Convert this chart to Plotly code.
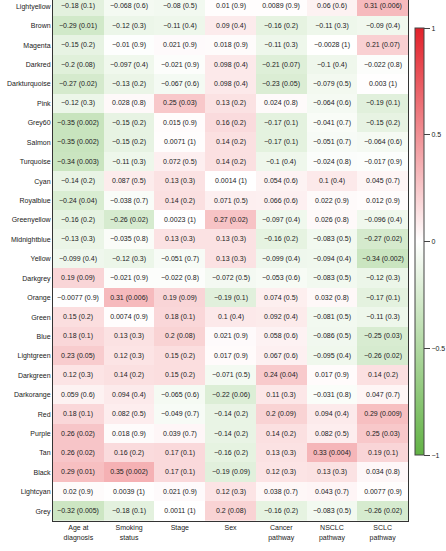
import plotly.graph_objects as go

modules = ["Lightyellow", "Brown", "Magenta", "Darkred", "Darkturquoise", "Pink", "Grey60",
           "Salmon", "Turquoise", "Cyan", "Royalblue", "Greenyellow", "Midnightblue", "Yellow",
           "Darkgrey", "Orange", "Green", "Blue", "Lightgreen", "Darkgreen", "Darkorange", "Red",
           "Purple", "Tan", "Black", "Lightcyan", "Grey"]
traits = ["Age at<br>diagnosis", "Smoking<br>status", "Stage", "Sex", "Cancer<br>pathway",
          "NSCLC<br>pathway", "SCLC<br>pathway"]

corr = [
    [-0.18, -0.068, -0.08, 0.01, 0.0089, 0.06, 0.31],
    [-0.29, -0.12, -0.11, 0.09, -0.16, -0.11, -0.09],
    [-0.15, -0.01, 0.021, 0.018, -0.11, -0.0028, 0.21],
    [-0.2, -0.097, -0.021, 0.098, -0.21, -0.1, -0.022],
    [-0.27, -0.13, -0.067, 0.098, -0.23, -0.079, 0.003],
    [-0.12, 0.028, 0.25, 0.13, 0.024, -0.064, -0.19],
    [-0.35, -0.15, 0.015, 0.16, -0.17, -0.041, -0.15],
    [-0.35, -0.15, 0.0071, 0.14, -0.17, -0.051, -0.064],
    [-0.34, -0.11, 0.072, 0.14, -0.1, -0.024, -0.017],
    [-0.14, 0.087, 0.13, 0.0014, 0.054, 0.1, 0.045],
    [-0.24, -0.038, 0.14, 0.071, 0.066, 0.022, 0.012],
    [-0.16, -0.26, 0.0023, 0.27, -0.097, 0.026, -0.096],
    [-0.13, -0.035, 0.13, 0.13, -0.16, -0.083, -0.27],
    [-0.099, -0.12, -0.051, 0.13, -0.099, -0.094, -0.34],
    [0.19, -0.021, -0.022, -0.072, -0.053, -0.083, -0.12],
    [-0.0077, 0.31, 0.19, -0.19, 0.074, 0.032, -0.17],
    [0.15, 0.0074, 0.18, 0.1, 0.092, -0.081, -0.11],
    [0.18, 0.13, 0.2, 0.021, 0.058, -0.086, -0.25],
    [0.23, 0.12, 0.15, 0.017, 0.067, -0.095, -0.26],
    [0.12, 0.14, 0.15, -0.071, 0.24, 0.017, 0.14],
    [0.059, 0.094, -0.065, -0.22, 0.11, -0.031, 0.047],
    [0.18, 0.082, -0.049, -0.14, 0.2, 0.094, 0.29],
    [0.26, 0.018, 0.039, -0.14, 0.14, 0.082, 0.25],
    [0.26, 0.16, 0.17, -0.16, 0.13, 0.33, 0.19],
    [0.29, 0.35, 0.17, -0.19, 0.12, 0.13, 0.034],
    [0.02, 0.0039, 0.021, 0.12, 0.038, 0.043, 0.0077],
    [-0.32, -0.18, 0.0011, 0.2, -0.16, -0.083, -0.26],
]
pvals = [
    ["0.1", "0.6", "0.5", "0.9", "0.9", "0.6", "0.006"],
    ["0.01", "0.3", "0.4", "0.4", "0.2", "0.3", "0.4"],
    ["0.2", "0.9", "0.9", "0.9", "0.3", "1", "0.07"],
    ["0.08", "0.4", "0.9", "0.4", "0.07", "0.4", "0.8"],
    ["0.02", "0.2", "0.6", "0.4", "0.05", "0.5", "1"],
    ["0.3", "0.8", "0.03", "0.2", "0.8", "0.6", "0.1"],
    ["0.002", "0.2", "0.9", "0.2", "0.1", "0.7", "0.2"],
    ["0.002", "0.2", "1", "0.2", "0.1", "0.7", "0.6"],
    ["0.003", "0.3", "0.5", "0.2", "0.4", "0.8", "0.9"],
    ["0.2", "0.5", "0.3", "1", "0.6", "0.4", "0.7"],
    ["0.04", "0.7", "0.2", "0.5", "0.6", "0.9", "0.9"],
    ["0.2", "0.02", "1", "0.02", "0.4", "0.8", "0.4"],
    ["0.3", "0.8", "0.3", "0.3", "0.2", "0.5", "0.02"],
    ["0.4", "0.3", "0.7", "0.3", "0.4", "0.4", "0.002"],
    ["0.09", "0.9", "0.8", "0.5", "0.6", "0.5", "0.3"],
    ["0.9", "0.006", "0.09", "0.1", "0.5", "0.8", "0.1"],
    ["0.2", "0.9", "0.1", "0.4", "0.4", "0.5", "0.3"],
    ["0.1", "0.3", "0.08", "0.9", "0.6", "0.5", "0.03"],
    ["0.05", "0.3", "0.2", "0.9", "0.6", "0.4", "0.02"],
    ["0.3", "0.2", "0.2", "0.5", "0.04", "0.9", "0.2"],
    ["0.6", "0.4", "0.6", "0.06", "0.3", "0.8", "0.7"],
    ["0.1", "0.5", "0.7", "0.2", "0.09", "0.4", "0.009"],
    ["0.02", "0.9", "0.7", "0.2", "0.2", "0.5", "0.03"],
    ["0.02", "0.2", "0.1", "0.2", "0.3", "0.004", "0.1"],
    ["0.01", "0.002", "0.1", "0.09", "0.3", "0.3", "0.8"],
    ["0.9", "1", "0.9", "0.3", "0.7", "0.7", "0.9"],
    ["0.005", "0.1", "1", "0.08", "0.2", "0.5", "0.02"],
]


def fmt(v):
    s = ("%g" % v)
    return s.replace("-", "\u2212")


labels = [[f"{fmt(c)} ({p})" for c, p in zip(rc, rp)] for rc, rp in zip(corr, pvals)]

nrow = len(modules)
ncol = len(traits)
FONT = "Liberation Sans, Arial, sans-serif"

fig = go.Figure(go.Heatmap(
    z=corr,
    x=list(range(ncol)),
    y=list(range(nrow)),
    text=labels,
    texttemplate="%{text}",
    textfont=dict(size=7, color="#222222", family=FONT),
    zmin=-1, zmax=1,
    colorscale=[[0.0, "#62B245"], [0.5, "#FFFFFF"], [1.0, "#E2212A"]],
    hoverinfo="skip",
    colorbar=dict(
        x=1.02, xanchor="left", xref="paper",
        y=0.536, yanchor="middle",
        lenmode="pixels", len=427,
        thickness=9, thicknessmode="pixels",
        outlinewidth=1, outlinecolor="#444444",
        tickvals=[-1, -0.5, 0, 0.5, 1],
        ticks="outside", ticklen=6, tickcolor="#444444",
        tickfont=dict(size=7, color="#222222", family=FONT),
        xpad=0, ypad=0,
    ),
    showscale=True,
))

fig.update_layout(
    width=446, height=551,
    margin=dict(l=53, r=36, t=0, b=30),
    paper_bgcolor="white", plot_bgcolor="white",
    font=dict(family=FONT, size=7, color="#222222"),
)
fig.update_xaxes(
    tickvals=list(range(ncol)), ticktext=traits, range=[-0.5, ncol - 0.5],
    showline=True, linecolor="#333333", linewidth=1, mirror=True,
    showgrid=False, zeroline=False, ticks="", tickfont=dict(size=7, color="#222222", family=FONT),
)
fig.update_yaxes(
    tickvals=list(range(nrow)), ticktext=modules,
    range=[nrow - 0.5, -0.325],
    showline=True, linecolor="#333333", linewidth=1, mirror=True,
    showgrid=False, zeroline=False, ticks="", tickfont=dict(size=7, color="#222222", family=FONT),
)

fig.write_html("out.html")
